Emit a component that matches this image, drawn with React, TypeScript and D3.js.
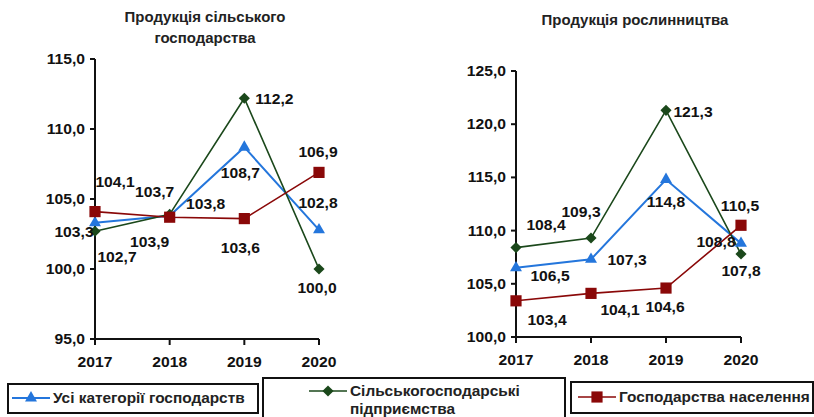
import React from "react";
import * as d3 from "d3";

// categories and series
const years = ["2017", "2018", "2019", "2020"];
const seriesNames = ["Усі категорії господарств", "Сільськогосподарські підприємства", "Господарства населення"];

const farmAll = [103.3, 103.8, 108.7, 102.8];
const farmEnterprises = [102.7, 103.9, 112.2, 100.0];
const farmHouseholds = [104.1, 103.7, 103.6, 106.9];

const cropAll = [106.5, 107.3, 114.8, 108.8];
const cropEnterprises = [108.4, 109.3, 121.3, 107.8];
const cropHouseholds = [103.4, 104.1, 104.6, 110.5];

const farmTicks = [95, 100, 105, 110, 115];
const cropTicks = [100, 105, 110, 115, 120, 125];

// label placement (dx, dy from the point), per series
const farmLabelOffsets = [
  [[-21, 14], [36, -7], [-4, 31], [-1, -22]],
  [[22, 31], [-20, 33], [30, 6], [-2, 24]],
  [[20, -25], [-15, -20], [-4, 34], [-1, -15]],
];
const cropLabelOffsets = [
  [[34, 13], [36, 6], [0, 27], [-25, 4]],
  [[30, -18], [-10, -21], [27, 7], [0, 22]],
  [[31, 24], [29, 22], [-1, 24], [-1, -14]],
];

const colors = ["#2476dc", "#1b481b", "#8a0808"];
const lineWidths = [2, 1.6, 1.6];
const font = "'Liberation Sans', Arial, sans-serif";
const fmt = (v: number) => d3.format(".1f")(v).replace(".", ",");

const marker = (i: number) => {
  if (i === 0) return { d: d3.symbol(d3.symbolTriangle, 62)()!, rot: 0 };
  if (i === 1) return { d: d3.symbol(d3.symbolSquare, 62)()!, rot: 45 };
  return { d: d3.symbol(d3.symbolSquare, 125)()!, rot: 0 };
};

// the source text looks stretched sideways, so scale it a bit
function T({ x, y, anchor = "start", sx = 1.12, children, fill = "#111" }: any) {
  return (
    <text transform={`translate(${x},${y}) scale(${sx},1)`} textAnchor={anchor}
      style={{ fontFamily: font, fontWeight: 700, fontSize: 14, fill }}>{children}</text>
  );
}

function Panel({ title, titleX, titleY, x0, x1, yTop, yBottom, ticks, series, offsets }: any) {
  const x = d3.scalePoint<string>().domain(years).range([x0, x1]);
  const y = d3.scaleLinear().domain([ticks[0], ticks[ticks.length - 1]]).range([yBottom, yTop]);
  const line = d3.line<number>().x((_, i) => x(years[i])!).y(d => y(d));

  return (
    <g>
      {title.map((t: string, i: number) => (
        <T key={t} x={titleX} y={titleY + i * 21} anchor="middle" sx={1.07} fill="#222">{t}</T>
      ))}
      <line x1={x0} x2={x0} y1={yTop} y2={yBottom} stroke="#111" strokeWidth={2} />
      <line x1={x0} x2={x1} y1={yBottom} y2={yBottom} stroke="#111" strokeWidth={2} />
      {ticks.map((t: number) => (
        <g key={t}>
          <line x1={x0 - 5} x2={x0} y1={y(t)} y2={y(t)} stroke="#111" strokeWidth={2} />
          <T x={x0 - 10} y={y(t) + 5} anchor="end">{fmt(t)}</T>
        </g>
      ))}
      {years.map(yr => (
        <g key={yr}>
          <line x1={x(yr)} x2={x(yr)} y1={yBottom} y2={yBottom + 6} stroke="#111" strokeWidth={2} />
          <T x={x(yr)} y={yBottom + 28} anchor="middle">{yr}</T>
        </g>
      ))}
      {series.map((vals: number[], s: number) => (
        <path key={"l" + s} d={line(vals)!} fill="none" stroke={colors[s]} strokeWidth={lineWidths[s]} />
      ))}
      {series.map((vals: number[], s: number) => {
        const m = marker(s);
        return vals.map((v, i) => (
          <path key={"m" + s + i} d={m.d} fill={colors[s]}
            transform={`translate(${x(years[i])},${y(v)}) rotate(${m.rot})`} />
        ));
      })}
      {series.map((vals: number[], s: number) =>
        vals.map((v, i) => (
          <T key={"t" + s + i} x={x(years[i])! + offsets[s][i][0]} y={y(v) + offsets[s][i][1]}
            anchor="middle">{fmt(v)}</T>
        ))
      )}
    </g>
  );
}

function LegendItem({ idx, bx, by, bw, bh, lx, ly, lines }: any) {
  const m = marker(idx);
  return (
    <g>
      <rect x={bx} y={by} width={bw} height={bh} fill="#fff" stroke="#111" strokeWidth={2} />
      <line x1={lx} x2={lx + 38} y1={ly} y2={ly} stroke={colors[idx]} strokeWidth={lineWidths[idx]} />
      <path d={m.d} fill={colors[idx]} transform={`translate(${lx + 19},${ly}) rotate(${m.rot})`} />
      {lines.map((t: string, i: number) => (
        <T key={t} x={lx + 41} y={ly + 5 + i * 18} sx={1.1} fill="#222">{t}</T>
      ))}
    </g>
  );
}

export default function App() {
  return (
    <div style={{ position: "absolute", left: 0, top: 0 }}>
      <svg width={814} height={417} style={{ display: "block", background: "#fff" }}>
        <Panel title={["Продукція сільського", "господарства"]} titleX={205} titleY={22}
          x0={95} x1={319} yTop={59} yBottom={339} ticks={farmTicks}
          series={[farmAll, farmEnterprises, farmHouseholds]} offsets={farmLabelOffsets} />
        <Panel title={["Продукція рослинництва"]} titleX={635} titleY={25}
          x0={516} x1={741} yTop={71} yBottom={337} ticks={cropTicks}
          series={[cropAll, cropEnterprises, cropHouseholds]} offsets={cropLabelOffsets} />
        <LegendItem idx={0} bx={8} by={384} bw={250} bh={29} lx={12} ly={398} lines={[seriesNames[0]]} />
        <LegendItem idx={1} bx={263} by={378} bw={302} bh={45} lx={309} ly={391}
          lines={["Сільськогосподарські", "підприємства"]} />
        <LegendItem idx={2} bx={571} by={382} bw={242} bh={31} lx={578} ly={397} lines={[seriesNames[2]]} />
      </svg>
    </div>
  );
}
